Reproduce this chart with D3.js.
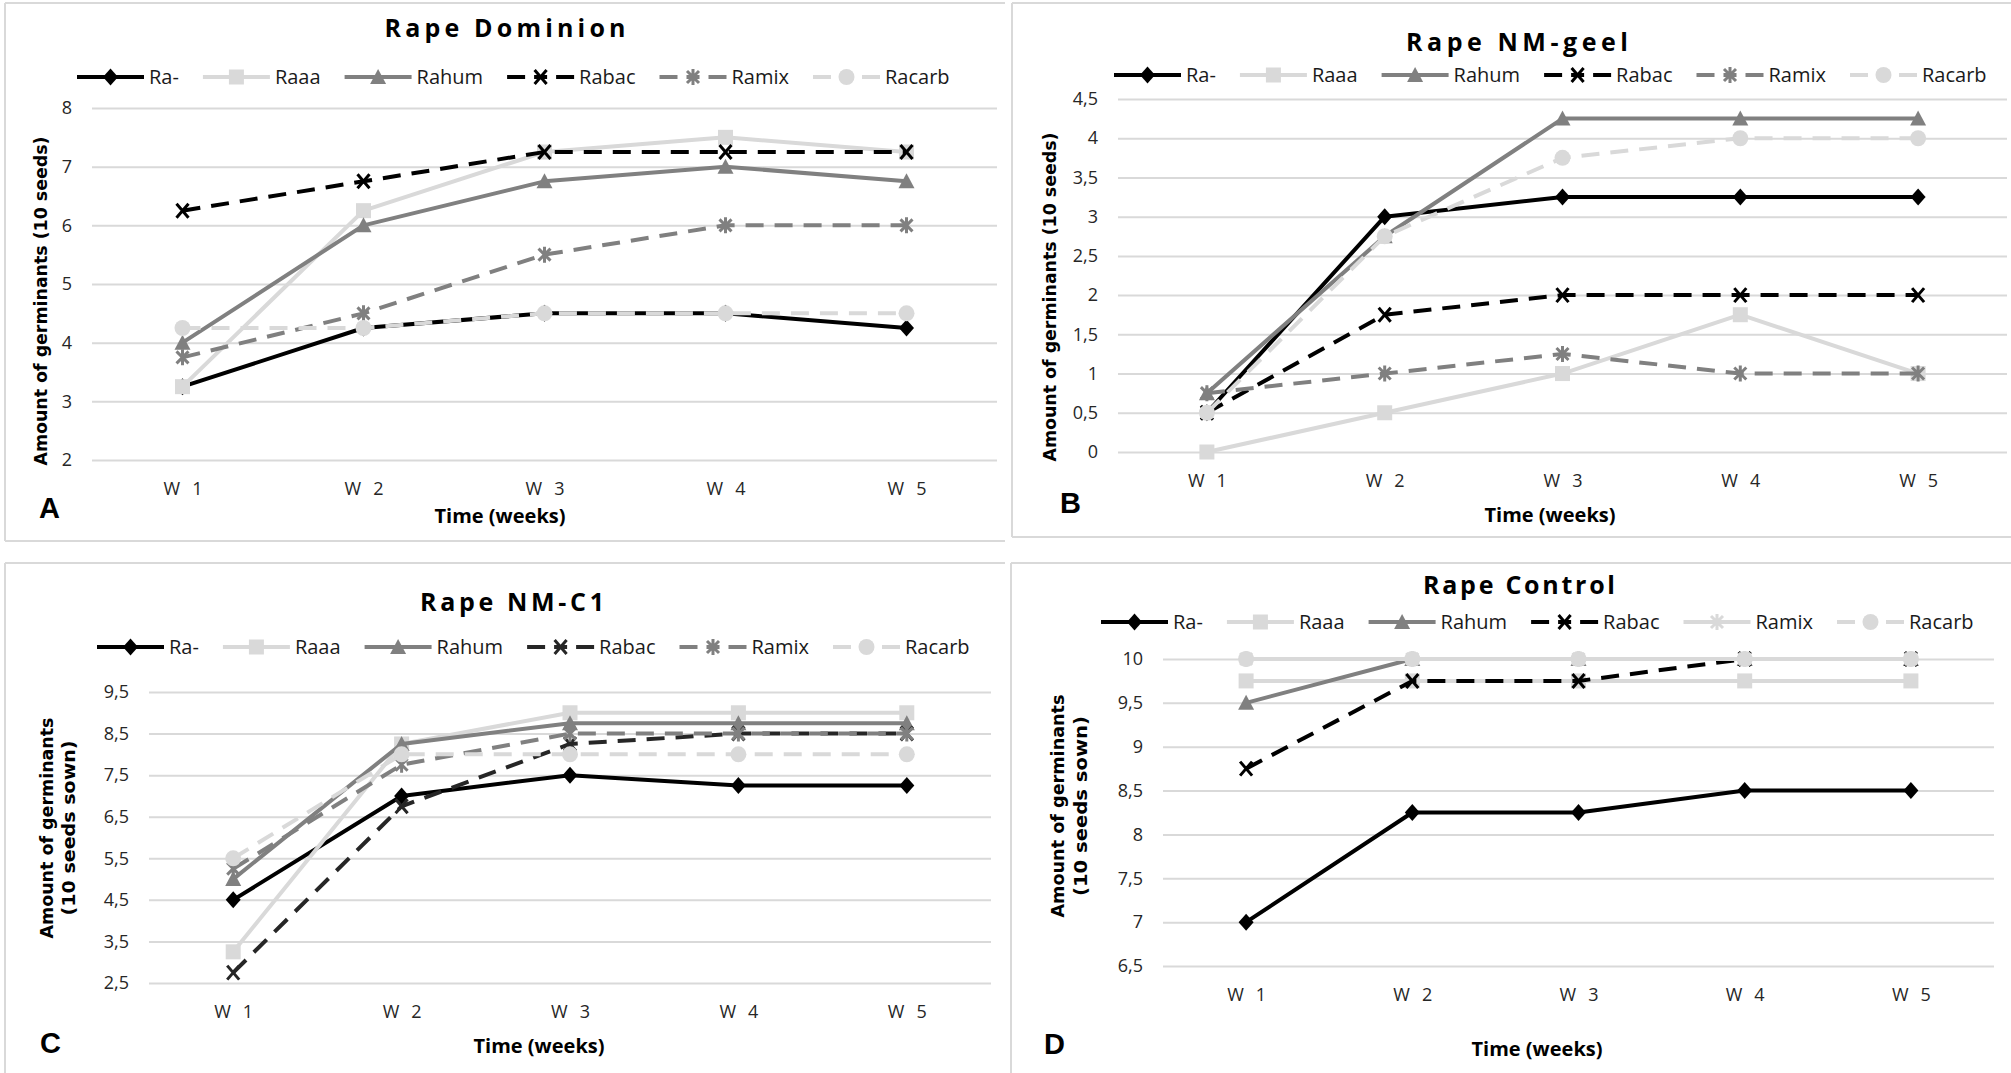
<!DOCTYPE html>
<html><head><meta charset="utf-8">
<script src="https://cdn.jsdelivr.net/npm/d3@7"></script>
<style>body{margin:0;background:#fff} svg{display:block}</style>
</head><body><svg id="c" width="2011" height="1073"></svg>
<script>
// ---------- data ----------
const weeks = ["W 1", "W 2", "W 3", "W 4", "W 5"];
const seriesNames = ["Ra-", "Raaa", "Rahum", "Rabac", "Ramix", "Racarb"];

const ticksA = [2, 3, 4, 5, 6, 7, 8];
const ticksB = [0, 0.5, 1, 1.5, 2, 2.5, 3, 3.5, 4, 4.5];
const ticksC = [2.5, 3.5, 4.5, 5.5, 6.5, 7.5, 8.5, 9.5];
const ticksD = [6.5, 7, 7.5, 8, 8.5, 9, 9.5, 10];

// rows follow seriesNames order
const dataA = [
  [3.25, 4.25, 4.5, 4.5, 4.25],
  [3.25, 6.25, 7.25, 7.5, 7.25],
  [4, 6, 6.75, 7, 6.75],
  [6.25, 6.75, 7.25, 7.25, 7.25],
  [3.75, 4.5, 5.5, 6, 6],
  [4.25, 4.25, 4.5, 4.5, 4.5]
];
const dataB = [
  [0.5, 3, 3.25, 3.25, 3.25],
  [0, 0.5, 1, 1.75, 1],
  [0.75, 2.75, 4.25, 4.25, 4.25],
  [0.5, 1.75, 2, 2, 2],
  [0.75, 1, 1.25, 1, 1],
  [0.5, 2.75, 3.75, 4, 4]
];
const dataC = [
  [4.5, 7, 7.5, 7.25, 7.25],
  [3.25, 8.25, 9, 9, 9],
  [5, 8.25, 8.75, 8.75, 8.75],
  [2.75, 6.75, 8.25, 8.5, 8.5],
  [5.25, 7.75, 8.5, 8.5, 8.5],
  [5.5, 8, 8, 8, 8]
];
const dataD = [
  [7, 8.25, 8.25, 8.5, 8.5],
  [9.75, 9.75, 9.75, 9.75, 9.75],
  [9.5, 10, 10, 10, 10],
  [8.75, 9.75, 9.75, 10, 10],
  [10, 10, 10, 10, 10],
  [10, 10, 10, 10, 10]
];

const titles = ["Rape Dominion", "Rape NM-geel", "Rape NM-C1", "Rape Control"];
const yTitleAB = ["Amount of germinants (10 seeds)"];
const yTitleCD = ["Amount of germinants", "(10 seeds sown)"];
const xTitle = "Time (weeks)";
const letters = ["A", "B", "C", "D"];

// ---------- styles ----------
const LIGHT = "#d9d9d9", MID = "#808080", DARK = "#000000";
const DASH = "18,11";
const baseStyles = [
  {color: DARK, dash: null, marker: "diamond"},
  {color: LIGHT, dash: null, marker: "square"},
  {color: MID, dash: null, marker: "triangle"},
  {color: DARK, dash: DASH, marker: "x"},
  {color: MID, dash: DASH, marker: "star"},
  {color: LIGHT, dash: DASH, marker: "circle"}
];
const stylesC = baseStyles.map((s, i) => i === 3 ? Object.assign({}, s, {color: "#262626"}) : s);
const stylesD = baseStyles.map((s, i) => i === 4 ? {color: LIGHT, dash: null, marker: "star"} : s);

const panels = [
  {box: {x: 5, y: 3, bottom: 541},
   left: 92, right: 997, top: 108, bottom: 460,
   titleX: 505, titleY: 37, titleW: 241,
   legendX: 77, legendY: 77,
   yTitle: yTitleAB, yTitleX: [41], yTitleY: 301, yTitleW: [329],
   xTitleX: 500, xTitleY: 523, letterX: 39, letterY: 518},
  {box: {x: 1012, y: 3, bottom: 537},
   left: 1118, right: 2007, top: 99, bottom: 452,
   titleX: 1517, titleY: 51, titleW: 222,
   legendX: 1114, legendY: 75,
   yTitle: yTitleAB, yTitleX: [1050], yTitleY: 297, yTitleW: [329],
   xTitleX: 1550, xTitleY: 522, letterX: 1060, letterY: 513},
  {box: {x: 5, y: 563, bottom: null},
   left: 149, right: 991, top: 692, bottom: 983,
   titleX: 512, titleY: 611, titleW: 184,
   legendX: 97, legendY: 647,
   yTitle: yTitleCD, yTitleX: [47, 69], yTitleY: 828, yTitleW: [221, 175],
   xTitleX: 539, xTitleY: 1053, letterX: 40, letterY: 1053},
  {box: {x: 1011, y: 563, bottom: null},
   left: 1163, right: 1994, top: 659, bottom: 966,
   titleX: 1519, titleY: 594, titleW: 192,
   legendX: 1101, legendY: 622,
   yTitle: yTitleCD, yTitleX: [1058, 1081], yTitleY: 806, yTitleW: [223, 180],
   xTitleX: 1537, xTitleY: 1056, letterX: 1044, letterY: 1054}
];

const svg = d3.select("#c");
const fmt = d => String(d).replace(".", ",");

function drawMarker(g, type, color, cx, cy) {
  const m = g.append("g").attr("transform", `translate(${cx},${cy})`);
  if (type === "diamond") {
    m.append("path").attr("d", "M0,-8.5L7.5,0L0,8.5L-7.5,0Z").attr("fill", color);
  } else if (type === "square") {
    m.append("rect").attr("x", -7.5).attr("y", -7.5).attr("width", 15).attr("height", 15).attr("fill", color);
  } else if (type === "triangle") {
    m.append("path").attr("d", "M0,-8L8,7L-8,7Z").attr("fill", color);
  } else if (type === "circle") {
    m.append("circle").attr("r", 8).attr("fill", color);
  } else if (type === "x") {
    m.append("path").attr("d", "M-6,-7L6,7M6,-7L-6,7").attr("stroke", color).attr("stroke-width", 3).attr("fill", "none");
  } else if (type === "star") {
    m.append("path").attr("d", "M-6,-6L6,6M6,-6L-6,6M0,-8L0,8").attr("stroke", color).attr("stroke-width", 3).attr("fill", "none");
  }
}

function drawPanel(p, data, ticks, styles, idx) {
  const g = svg.append("g");
  const b = p.box;
  const frame = g.append("g").attr("stroke", LIGHT).attr("stroke-width", 2).attr("fill", "none");
  const fr = idx % 2 === 0 ? 1005 : 2011;
  frame.append("line").attr("x1", b.x).attr("x2", fr).attr("y1", b.y).attr("y2", b.y);
  frame.append("line").attr("x1", b.x).attr("x2", b.x).attr("y1", b.y).attr("y2", b.bottom == null ? 1073 : b.bottom);
  if (b.bottom != null) frame.append("line").attr("x1", b.x).attr("x2", fr).attr("y1", b.bottom).attr("y2", b.bottom);

  const x = d3.scalePoint().domain(weeks).range([p.left, p.right]).padding(0.5);
  const y = d3.scaleLinear().domain(d3.extent(ticks)).range([p.bottom, p.top]);

  const ya = g.append("g").attr("transform", `translate(${p.left},0)`)
    .call(d3.axisLeft(y).tickValues(ticks).tickSize(-(p.right - p.left)).tickPadding(20).tickFormat(fmt));
  ya.select(".domain").remove();
  ya.selectAll(".tick line").attr("stroke", LIGHT).attr("stroke-width", 2);
  ya.selectAll(".tick text").attr("font-family", "Open Sans").attr("font-size", 18).attr("fill", "#262626");

  const xa = g.append("g").attr("transform", `translate(0,${p.bottom})`)
    .call(d3.axisBottom(x).tickSize(0).tickPadding(22).tickFormat(d => d.replace(" ", "\u2002\u2006")));
  xa.select(".domain").remove();
  xa.selectAll(".tick text").attr("font-family", "Open Sans").attr("font-size", 18).attr("fill", "#262626");

  const line = d3.line().x((d, i) => x(weeks[i])).y(d => y(d));
  data.forEach((vals, si) => {
    const s = styles[si];
    const sg = g.append("g");
    sg.append("path").attr("d", line(vals)).attr("fill", "none").attr("stroke", s.color)
      .attr("stroke-width", 4).attr("stroke-linejoin", "round")
      .attr("stroke-dasharray", s.dash);
    vals.forEach((v, i) => drawMarker(sg, s.marker, s.color, x(weeks[i]), y(v)));
  });

  g.append("text").attr("x", p.titleX).attr("y", p.titleY).attr("text-anchor", "middle")
    .attr("font-family", "Open Sans").attr("font-weight", "bold").attr("font-size", 25)
    .attr("textLength", p.titleW).attr("lengthAdjust", "spacing").text(titles[idx]);

  let lx = p.legendX;
  const ly = p.legendY;
  seriesNames.forEach((name, si) => {
    const s = styles[si];
    const lg = g.append("g");
    lg.append("line").attr("x1", lx).attr("x2", lx + 67).attr("y1", ly).attr("y2", ly)
      .attr("stroke", s.color).attr("stroke-width", 4)
      .attr("stroke-dasharray", s.dash ? "18,9,13,9,18" : null);
    drawMarker(lg, s.marker, s.color, lx + 33.5, ly);
    const t = lg.append("text").attr("x", lx + 72).attr("y", ly).attr("dy", "0.35em")
      .attr("font-family", "Open Sans").attr("font-size", 20).attr("fill", "#1a1a1a").text(name);
    lx += 72 + t.node().getComputedTextLength() + 24;
  });

  p.yTitle.forEach((txt, li) => {
    g.append("text")
      .attr("transform", `translate(${p.yTitleX[li]},${p.yTitleY}) rotate(-90)`)
      .attr("text-anchor", "middle").attr("dominant-baseline", "central")
      .attr("font-family", "DejaVu Sans").attr("font-weight", "bold").attr("font-size", 17.5)
      .attr("textLength", p.yTitleW[li]).attr("lengthAdjust", "spacingAndGlyphs").text(txt);
  });

  g.append("text").attr("x", p.xTitleX).attr("y", p.xTitleY).attr("text-anchor", "middle")
    .attr("font-family", "Open Sans").attr("font-weight", "bold").attr("font-size", 19)
    .attr("textLength", 131).attr("lengthAdjust", "spacingAndGlyphs").text(xTitle);

  g.append("text").attr("x", p.letterX).attr("y", p.letterY)
    .attr("font-family", "Liberation Sans").attr("font-weight", "bold").attr("font-size", 29)
    .text(letters[idx]);
}

drawPanel(panels[0], dataA, ticksA, baseStyles, 0);
drawPanel(panels[1], dataB, ticksB, baseStyles, 1);
drawPanel(panels[2], dataC, ticksC, stylesC, 2);
drawPanel(panels[3], dataD, ticksD, stylesD, 3);
</script>
</body></html>
